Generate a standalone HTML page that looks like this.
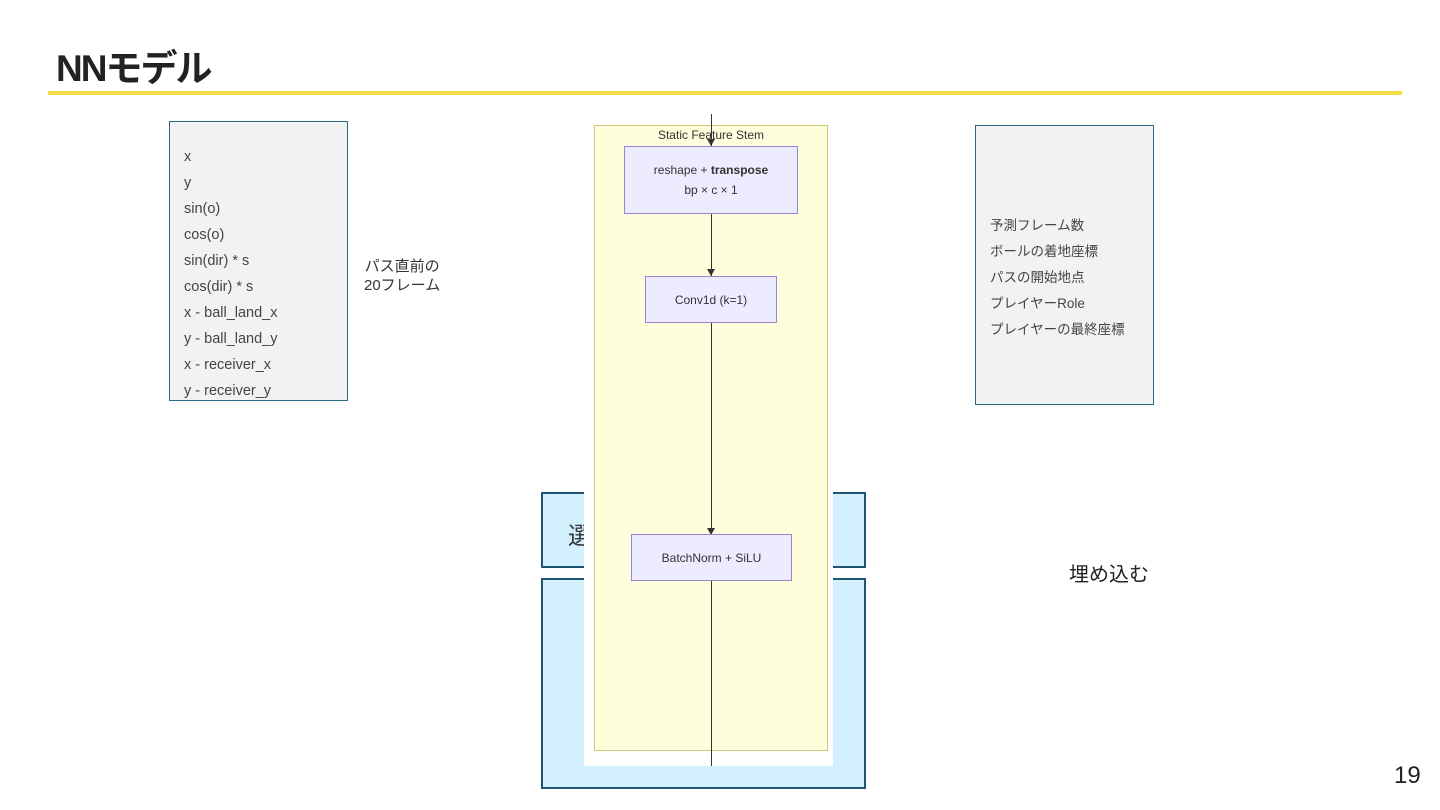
<!DOCTYPE html>
<html><head><meta charset="utf-8"><style>
body{margin:0;width:1440px;height:810px;background:#fff;position:relative;overflow:hidden;font-family:"Liberation Sans","Noto Sans CJK JP",sans-serif;color:#222}
.a{position:absolute}
.box{position:absolute;background:#f2f2f2;border:1.5px solid #2a6a86;box-sizing:border-box}
.node{position:absolute;background:#ececfe;border:1px solid #9a84d4;box-sizing:border-box;font-size:12px;color:#333;text-align:center;display:flex;flex-direction:column;justify-content:center;align-items:center;line-height:20px}
.vl{position:absolute;width:1px;background:#333}
.ar{position:absolute;width:0;height:0;border-left:4px solid transparent;border-right:4px solid transparent;border-top:7px solid #333}
</style></head><body>
<div class="a" style="left:56px;top:38px;font-size:37px;font-weight:bold;color:#222;letter-spacing:-2px">NNモデル</div>
<div class="a" style="left:48px;top:91px;width:1354px;height:4px;background:#f5dc44"></div>

<div class="box" style="left:169px;top:121px;width:179px;height:280px;padding:22px 0 0 14px;font-size:14.5px;line-height:26px;color:#444">x<br>y<br>sin(o)<br>cos(o)<br>sin(dir) * s<br>cos(dir) * s<br>x - ball_land_x<br>y - ball_land_y<br>x - receiver_x<br>y - receiver_y</div>
<div class="a" style="left:364px;top:257px;font-size:15px;line-height:19px;text-align:center;color:#333">パス直前の<br>20フレーム</div>

<div class="box" style="left:975px;top:125px;width:179px;height:280px;padding:87px 0 0 14px;font-size:13.5px;line-height:26px;color:#444">予測フレーム数<br>ボールの着地座標<br>パスの開始地点<br>プレイヤーRole<br>プレイヤーの最終座標</div>
<div class="a" style="left:1069px;top:558px;font-size:20px;color:#222">埋め込む</div>

<div class="a" style="left:541px;top:492px;width:325px;height:76px;background:#d2f0fd;border:2px solid #1f5570;box-sizing:border-box"></div>
<div class="a" style="left:568px;top:516px;font-size:24px;color:#333">選</div>
<div class="a" style="left:541px;top:578px;width:325px;height:211px;background:#d2f0fd;border:2px solid #1f5570;box-sizing:border-box"></div>

<div class="a" style="left:584px;top:110px;width:249px;height:656px;background:#fff"></div>
<div class="a" style="left:594px;top:125px;width:234px;height:626px;background:#fefedd;border:1.5px solid #c9c97a;box-sizing:border-box"></div>
<div class="a" style="left:594px;top:128px;width:234px;text-align:center;font-size:12px;color:#333">Static Feature Stem</div>

<div class="vl" style="left:711px;top:114px;height:32px"></div>
<div class="ar" style="left:707px;top:139px"></div>
<div class="node" style="left:624px;top:146px;width:174px;height:68px"><div>reshape + <b>transpose</b></div><div>bp × c × 1</div></div>
<div class="vl" style="left:711px;top:214px;height:62px"></div>
<div class="ar" style="left:707px;top:269px"></div>
<div class="node" style="left:645px;top:276px;width:132px;height:47px">Conv1d (k=1)</div>
<div class="vl" style="left:711px;top:323px;height:212px"></div>
<div class="ar" style="left:707px;top:528px"></div>
<div class="node" style="left:631px;top:534px;width:161px;height:47px">BatchNorm + SiLU</div>
<div class="vl" style="left:711px;top:581px;height:185px"></div>

<div class="a" style="left:1394px;top:762px;font-size:24px;color:#222">19</div>
</body></html>
